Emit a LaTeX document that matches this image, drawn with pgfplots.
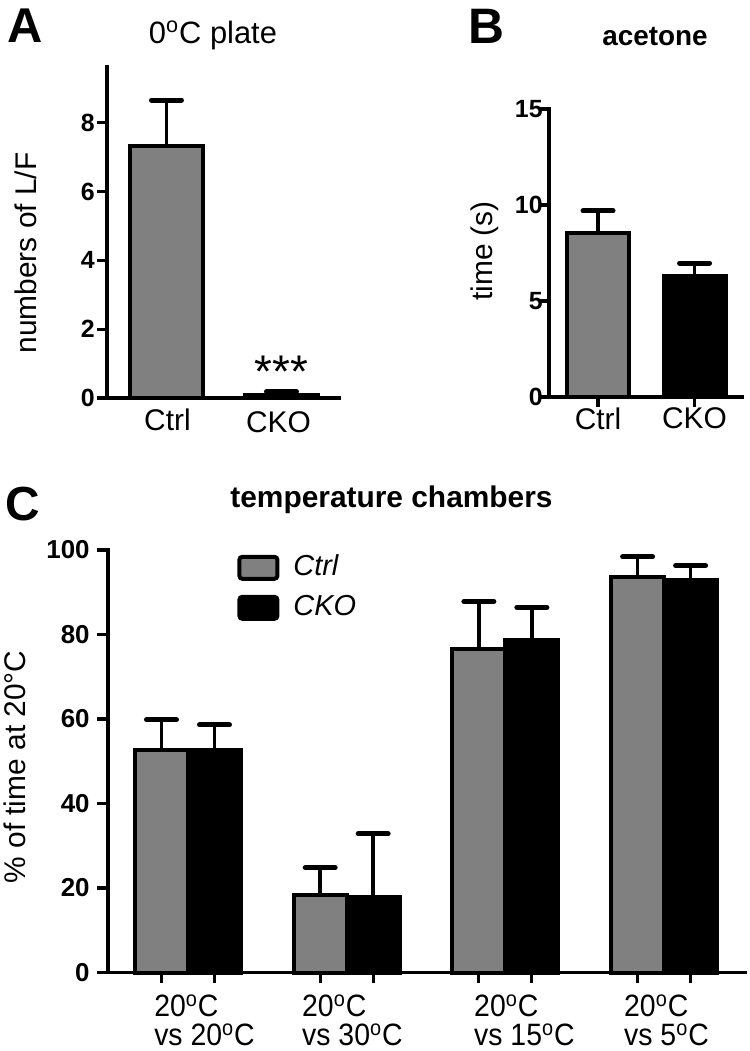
\documentclass[border=0pt]{standalone}
\usepackage{pgfplots}
\pgfplotsset{compat=1.18}
\usepackage{fontspec}
\setmainfont{Liberation Sans}
\newfontfamily\narrowfont[FakeStretch=0.92]{Liberation Sans}
\definecolor{barg}{HTML}{808080}

\pgfplotsset{
  panel/.style={
    scale only axis,
    axis x line=bottom, axis y line=left,
    axis line style={-, line width=1.6bp, line cap=rect},
    tick align=outside,
    tick style={draw=black, line width=1.6bp},
    major tick length=5bp,
    ymin=0,
    /pgf/number format/assume math mode=true,
    yticklabel style={font=\bfseries\fontsize{12.5}{13}\selectfont, inner sep=0pt},
    xticklabel style={font=\fontsize{15}{15}\selectfont},
    ybar=0pt,
    clip=false,
  },
  eb/.style={
    error bars/y dir=plus, error bars/y explicit, error bars/error mark=|,
    error bars/error bar style={line width=1.75bp, black},
    error bars/error mark options={line width=2.5bp, mark size=7.5bp, black, line cap=round},
  },
  ctrl/.style={fill=barg, draw=black, line width=2bp},
  cko/.style={fill=black, draw=black, line width=2bp},
  legbox/.style={legend image code/.code={\draw[##1, line width=2bp, rounded corners=1.5bp] (0bp,-5.5bp) rectangle (19bp,5.5bp);}},
}
\tikzset{
  xlab/.style={anchor=base, inner sep=0pt, font=\fontsize{15}{15}\selectfont},
  clab/.style={anchor=north west, align=left, inner sep=0pt, yshift=-11bp,
      font=\narrowfont\fontsize{15.5}{14.5}\selectfont},
  tk/.style={draw=black, line width=1.6bp},
}

\pgfplotstableread{
x y e
0 7.32 1.34
}\Actrl
\pgfplotstableread{
x y e
1 0.10 0.08
}\Acko
\pgfplotstableread{
x y e
0 8.55 1.14
}\Bctrl
\pgfplotstableread{
x y e
1 6.30 0.68
}\Bcko
\pgfplotstableread{
x y e
0 52.7 7.1
1 18.3 6.5
2 76.5 11.3
3 93.5 4.9
}\Cctrl
\pgfplotstableread{
x y e
0 52.7 5.9
1 17.9 14.9
2 78.8 7.6
3 93.0 3.3
}\Ccko

\begin{document}
\begin{tikzpicture}[x=0.5bp,y=-0.5bp]
\path[use as bounding box] (0,0) rectangle (750,1051);

% ---------- Panel A ----------
\begin{axis}[panel, at={(53.5bp,-199bp)}, anchor=south west,
  width=116bp, height=165.5bp,
  xmin=-0.517, xmax=1.5, ymax=9.62,
  ytick={0,2,4,6,8},
  yticklabel style={xshift=-1bp},
  xtick=\empty,
  bar width=0.635, bar shift=0pt]
\addplot[ctrl, eb] table[x=x, y=y, y error=e] {\Actrl};
\addplot[cko, eb] table[x=x, y=y, y error=e] {\Acko};
\pgfplotsinvokeforeach{0,2,4,6,8}{\draw[tk] (axis cs:-0.517,#1) -- ++(-5bp,0pt);}
\node[anchor=base, inner sep=0pt, font=\fontsize{23}{23}\selectfont] at (axis cs:1,0.3) {***};
\node[xlab, yshift=-16bp, xshift=0.5bp] at (axis cs:0,0) {Ctrl};
\node[xlab, yshift=-17bp, xshift=-1.5bp] at (axis cs:1,0) {CKO};
\end{axis}

% ---------- Panel B ----------
\begin{axis}[panel, at={(274.5bp,-198.5bp)}, anchor=south west,
  width=96.5bp, height=144bp,
  xmin=-0.508, xmax=1.492, ymax=15,
  ytick={0,5,10,15},
  yticklabel style={xshift=2bp},
  xtick={0,1}, xticklabels={Ctrl,CKO},
  xticklabel style={yshift=3bp},
  bar width=0.643, bar shift=0pt]
\addplot[ctrl, eb] table[x=x, y=y, y error=e] {\Bctrl};
\addplot[cko, eb] table[x=x, y=y, y error=e] {\Bcko};
\pgfplotsinvokeforeach{0,5,10,15}{\draw[tk] (axis cs:-0.508,#1) -- ++(-3.5bp,0pt);}
\pgfplotsinvokeforeach{0,1}{\draw[tk] (axis cs:#1,0) -- ++(0pt,-2.5bp);}
\end{axis}

% ---------- Panel C ----------
\begin{axis}[panel, at={(54bp,-486.25bp)}, anchor=south west,
  width=318.5bp, height=211.25bp,
  xmin=-0.504, xmax=3.51, ymax=100,
  ytick={0,20,40,60,80,100},
  yticklabel style={font=\bfseries\fontsize{13}{13}\selectfont, xshift=-4bp},
  xtick={-0.167,0.167,0.833,1.167,1.833,2.167,2.833,3.167},
  xticklabels={},
  bar width=0.334,
  legend style={at={(rel axis cs:0.2025,0.992)}, anchor=north west,
    draw=none, fill=none, inner sep=0pt, row sep=6bp, column sep=7bp,
    font=\itshape\fontsize{14.5}{14.5}\selectfont,
    nodes={inner sep=0pt, text height=11bp, text depth=3bp}},
  legend cell align=left]
\addplot[ctrl, legbox, eb] table[x=x, y=y, y error=e] {\Cctrl};
\addlegendentry{Ctrl}
\addplot[cko, legbox, eb] table[x=x, y=y, y error=e] {\Ccko};
\addlegendentry{CKO}
\pgfplotsinvokeforeach{0,20,40,60,80,100}{\draw[tk] (axis cs:-0.504,#1) -- ++(-5.5bp,0pt);}
\pgfplotsinvokeforeach{-0.167,0.167,0.833,1.167,1.833,2.167,2.833,3.167}{\draw[tk] (axis cs:#1,0) -- ++(0pt,-3.5bp);}
\node[clab] at (axis cs:-0.215,0) {20\textsuperscript{o}C\\vs 20\textsuperscript{o}C};
\node[clab] at (axis cs:0.717,0) {20\textsuperscript{o}C\\vs 30\textsuperscript{o}C};
\node[clab] at (axis cs:1.801,0) {20\textsuperscript{o}C\\vs 15\textsuperscript{o}C};
\node[clab] at (axis cs:2.746,0) {20\textsuperscript{o}C\\vs 5\textsuperscript{o}C};
\end{axis}

% ---------- Text ----------
\node[anchor=base, inner sep=0pt, font=\bfseries\fontsize{24.5}{24.5}\selectfont] at (25,42) {A};
\node[anchor=base, inner sep=0pt, font=\fontsize{15.5}{15.5}\selectfont] at (213,43) {0\textsuperscript{o}C plate};
\node[anchor=base, inner sep=0pt, font=\bfseries\fontsize{25}{25}\selectfont] at (486,43) {B};
\node[anchor=base, inner sep=0pt, font=\bfseries\fontsize{14}{14}\selectfont] at (655,45) {acetone};
\node[anchor=base, inner sep=0pt, font=\bfseries\fontsize{24}{24}\selectfont] at (22.5,520) {C};
\node[anchor=base, inner sep=0pt, font=\bfseries\fontsize{15}{15}\selectfont] at (391.5,507) {temperature chambers};
\node[rotate=90, anchor=base, inner sep=0pt, font=\fontsize{15}{15}\selectfont] at (36,253) {numbers of L/F};
\node[rotate=90, anchor=base, inner sep=0pt, font=\fontsize{15}{15}\selectfont] at (492,251) {time (s)};
\node[rotate=90, anchor=base, inner sep=0pt, font=\fontsize{15}{15}\selectfont] at (25,767) {\% of time at 20°C};
\end{tikzpicture}
\end{document}
